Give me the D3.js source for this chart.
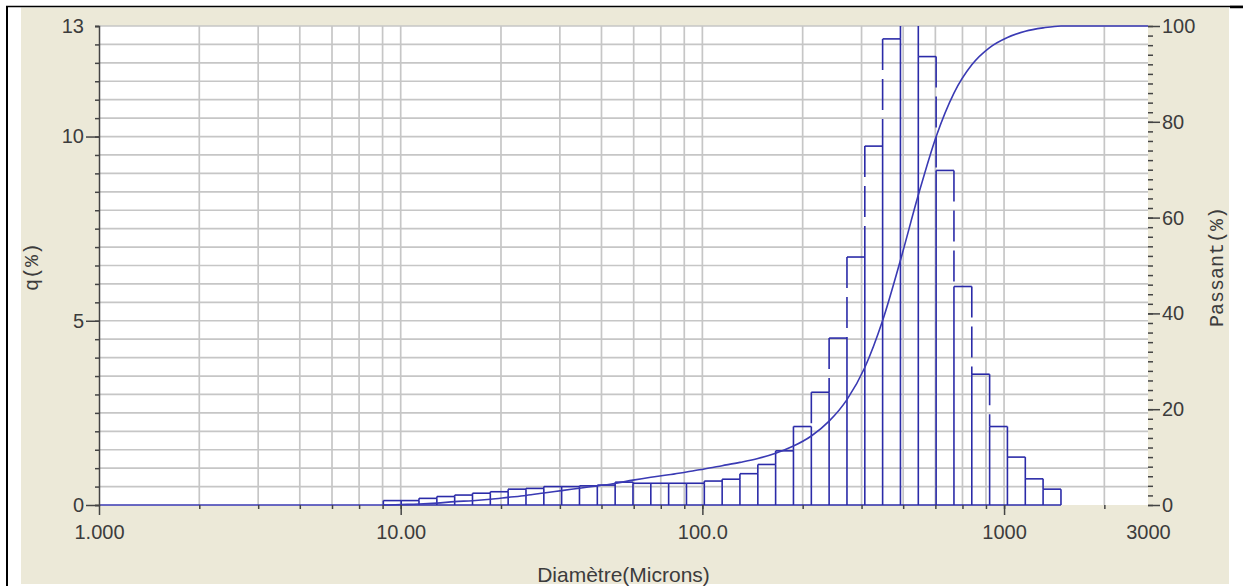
<!DOCTYPE html>
<html>
<head>
<meta charset="UTF-8">
<title>Distribution granulométrique</title>
<script src="https://d3js.org/d3.v7.min.js"></script>
<style>
    body {
        margin: 0;
        background-color: #fff;
    }

    .axis text {
        font-family: "Liberation Sans", Arial, sans-serif;
        font-size: 20px;
        fill: #3c3c3c;
    }

    .axis line,
    .axis path {
        stroke: #444;
        stroke-width: 1.5;
    }

    .grid line {
        stroke: #c6c6c6;
        stroke-width: 1.7;
    }

    .title {
        font-family: "Liberation Sans", Arial, sans-serif;
        font-size: 21px;
        fill: #3c3c3c;
    }

    .ytitle {
        font-family: "Liberation Mono", "DejaVu Sans Mono", monospace;
        font-size: 20px;
        fill: #3c3c3c;
    }
</style>
</head>

<body>
<svg id="main" width="1243" height="586"></svg>

<script>
    // bin edges of the sieve classes (microns)
    var binEdges = [8.76, 10.04, 11.50, 13.18, 15.10, 17.30, 19.82, 22.71, 26.02, 29.82,
        34.16, 39.14, 44.85, 51.39, 58.88, 67.47, 77.30, 88.57, 101.5, 116.3,
        133.2, 152.7, 174.9, 200.4, 229.7, 263.1, 301.5, 345.5, 395.8, 453.5,
        519.7, 595.4, 682.2, 781.7, 895.7, 1026, 1176, 1347, 1544];

    // q(%) for each class
    var qValues = [0.12, 0.12, 0.18, 0.23, 0.27, 0.32, 0.36, 0.43, 0.45, 0.50,
        0.50, 0.52, 0.54, 0.62, 0.59, 0.59, 0.59, 0.59, 0.65, 0.70,
        0.85, 1.10, 1.47, 2.13, 3.06, 4.53, 6.73, 9.74, 12.65, 13.6,
        12.17, 9.08, 5.93, 3.55, 2.13, 1.30, 0.71, 0.43];

    // cumulative passing curve
    var passantX = [1, 8.76, 10.04, 11.50, 13.18, 15.10, 17.30, 19.82, 22.71, 26.02, 29.82,
        34.16, 39.14, 44.85, 51.39, 58.88, 67.47, 77.30, 88.57, 101.5, 116.3,
        133.2, 152.7, 174.9, 200.4, 229.7, 263.1, 301.5, 345.5, 395.8, 453.5,
        519.7, 595.4, 682.2, 781.7, 895.7, 1026, 1176, 1347, 1544, 3000];
    var passantY = [0, 0, 0.1, 0.2, 0.4, 0.7, 0.9, 1.2, 1.6, 2.0, 2.5,
        3.0, 3.5, 4.0, 4.5, 5.2, 5.8, 6.3, 6.9, 7.5, 8.2,
        8.9, 9.7, 10.8, 12.3, 14.4, 17.5, 22.0, 28.7, 38.5, 51.1,
        64.7, 76.9, 86.0, 91.9, 95.5, 97.6, 98.9, 99.6, 100, 100];

    var xLabelValues = [1, 10, 100, 1000, 3000];
    var xLabelText = ["1.000", "10.00", "100.0", "1000", "3000"];
    var gridMult = [2.15, 3.37, 4.63, 5.92, 7.28, 8.71];
    var decades = [1, 10, 100, 1000];
    var leftTicks = [0, 5, 10];
    var rightTicks = [0, 20, 40, 60, 80, 100];

    var svg = d3.select("#main");
    var pLeft = 99, pRight = 1148, pTop = 26, pBottom = 505;

    var x = d3.scaleLog().domain([1, 3000]).range([pLeft, pRight]);
    var yL = d3.scaleLinear().domain([0, 13]).range([pBottom, pTop]);
    var yR = d3.scaleLinear().domain([0, 100]).range([pBottom, pTop]);

    // frame + panel
    svg.append("rect").attr("x", 21).attr("y", 7.5).attr("width", 1208).attr("height", 576.5)
        .attr("fill", "#ece9d8");
    svg.append("line").attr("x1", 7).attr("x2", 7).attr("y1", 6).attr("y2", 586)
        .attr("stroke", "#000").attr("stroke-width", 2);
    svg.append("line").attr("x1", 6).attr("x2", 1243).attr("y1", 6.5).attr("y2", 6.5)
        .attr("stroke", "#000").attr("stroke-width", 1.5);
    svg.append("line").attr("x1", 1230).attr("x2", 1243).attr("y1", 7).attr("y2", 7)
        .attr("stroke", "#000").attr("stroke-width", 2.5);

    svg.append("rect").attr("x", pLeft).attr("y", pTop).attr("width", pRight - pLeft).attr("height", pBottom - pTop)
        .attr("fill", "#fff");

    svg.append("clipPath").attr("id", "plotclip")
        .append("rect").attr("x", pLeft).attr("y", pTop - 1).attr("width", pRight - pLeft).attr("height", pBottom - pTop + 2);

    // grid
    var gridX = [];
    decades.forEach(function(d) {
        gridMult.forEach(function(m) {
            if (d * m < 3000) gridX.push(d * m);
        });
        if (d > 1) gridX.push(d);
    });
    var gridY = d3.range(0.5, 13.01, 0.5);

    var grid = svg.append("g").attr("class", "grid");
    grid.selectAll(".gy").data(gridY).enter().append("line")
        .attr("x1", pLeft).attr("x2", pRight)
        .attr("y1", d => yL(d)).attr("y2", d => yL(d));
    grid.selectAll(".gx").data(gridX).enter().append("line")
        .attr("x1", d => x(d)).attr("x2", d => x(d))
        .attr("y1", pTop).attr("y2", pBottom);

    // histogram
    var blue = "#2b2ba8";
    var hist = svg.append("g").attr("clip-path", "url(#plotclip)")
        .attr("stroke", blue).attr("stroke-width", 1.6).attr("fill", "none");

    hist.selectAll(".bartop").data(qValues).enter().append("line")
        .attr("x1", (d, i) => x(binEdges[i])).attr("x2", (d, i) => x(binEdges[i + 1]))
        .attr("y1", d => yL(d)).attr("y2", d => yL(d));
    hist.append("line")
        .attr("x1", x(binEdges[0])).attr("x2", x(binEdges[binEdges.length - 1]))
        .attr("y1", pBottom).attr("y2", pBottom);

    // each class edge: solid up to the lower neighbour, dashed between the two heights
    var edges = binEdges.map(function(e, j) {
        var hl = j > 0 ? qValues[j - 1] : 0;
        var hr = j < qValues.length ? qValues[j] : 0;
        return { x: e, lo: Math.min(hl, hr), hi: Math.min(Math.max(hl, hr), 13) };
    });
    hist.selectAll(".solid").data(edges).enter().append("line")
        .attr("x1", d => x(d.x)).attr("x2", d => x(d.x))
        .attr("y1", pBottom).attr("y2", d => yL(d.lo));
    hist.selectAll(".dash").data(edges).enter().append("line")
        .attr("x1", d => x(d.x)).attr("x2", d => x(d.x))
        .attr("y1", d => yL(d.hi)).attr("y2", d => yL(d.lo))
        .attr("stroke-dasharray", "31,9");

    // cumulative curve
    var line = d3.line()
        .x(d => x(d[0]))
        .y(d => yR(d[1]))
        .curve(d3.curveMonotoneX);
    svg.append("path")
        .datum(passantX.map((v, i) => [v, passantY[i]]))
        .attr("clip-path", "url(#plotclip)")
        .attr("d", line)
        .attr("fill", "none")
        .attr("stroke", "#3a3ab4")
        .attr("stroke-width", 1.6);

    // left axis
    var gl = svg.append("g").attr("class", "axis").attr("transform", "translate(" + pLeft + ",0)");
    gl.call(d3.axisLeft(yL).tickValues(d3.range(0, 13.01, 0.5)).tickSize(4).tickFormat(""));
    gl.select(".domain").attr("stroke-width", 2.4).attr("stroke", "#333");
    svg.append("g").attr("class", "axis").attr("transform", "translate(" + pLeft + ",0)")
        .call(d3.axisLeft(yL).tickValues(leftTicks).tickSize(13).tickPadding(2).tickFormat(d3.format("d")))
        .call(g => g.select(".domain").remove());
    svg.append("g").attr("class", "axis").attr("transform", "translate(" + pLeft + ",0)")
        .call(d3.axisLeft(yL).tickValues([13]).tickSize(4).tickPadding(11).tickFormat(d3.format("d")))
        .call(g => g.select(".domain").remove());

    // right axis
    svg.append("g").attr("class", "axis").attr("transform", "translate(" + pRight + ",0)")
        .call(d3.axisRight(yR).tickValues(d3.range(0, 101, 2)).tickSize(5).tickFormat(""))
        .call(g => g.select(".domain").remove());
    svg.append("g").attr("class", "axis").attr("transform", "translate(" + pRight + ",0)")
        .call(d3.axisRight(yR).tickValues(rightTicks).tickSize(12).tickPadding(2).tickFormat(d3.format("d")))
        .call(g => g.select(".domain").remove());

    // bottom axis
    svg.append("g").attr("class", "axis").attr("transform", "translate(0," + pBottom + ")")
        .call(d3.axisBottom(x).tickValues(gridX).tickSize(4).tickFormat(""))
        .call(g => g.select(".domain").remove());
    var gb = svg.append("g").attr("class", "axis").attr("transform", "translate(0," + pBottom + ")")
        .call(d3.axisBottom(x).tickValues(xLabelValues).tickSize(10).tickPadding(10)
            .tickFormat((d, i) => xLabelText[i]))
        .call(g => g.select(".domain").remove());
    gb.selectAll(".tick line").filter(d => d === 3000).remove();

    // titles
    svg.append("text").attr("class", "title")
        .attr("x", (pLeft + pRight) / 2).attr("y", 582)
        .attr("text-anchor", "middle")
        .text("Diamètre(Microns)");
    svg.append("text").attr("class", "ytitle")
        .attr("transform", "translate(38,267) rotate(-90)")
        .attr("text-anchor", "middle")
        .text("q(%)");
    svg.append("text").attr("class", "ytitle")
        .attr("transform", "translate(1223,267) rotate(-90)")
        .attr("text-anchor", "middle")
        .text("Passant(%)");
</script>
</body>
</html>
